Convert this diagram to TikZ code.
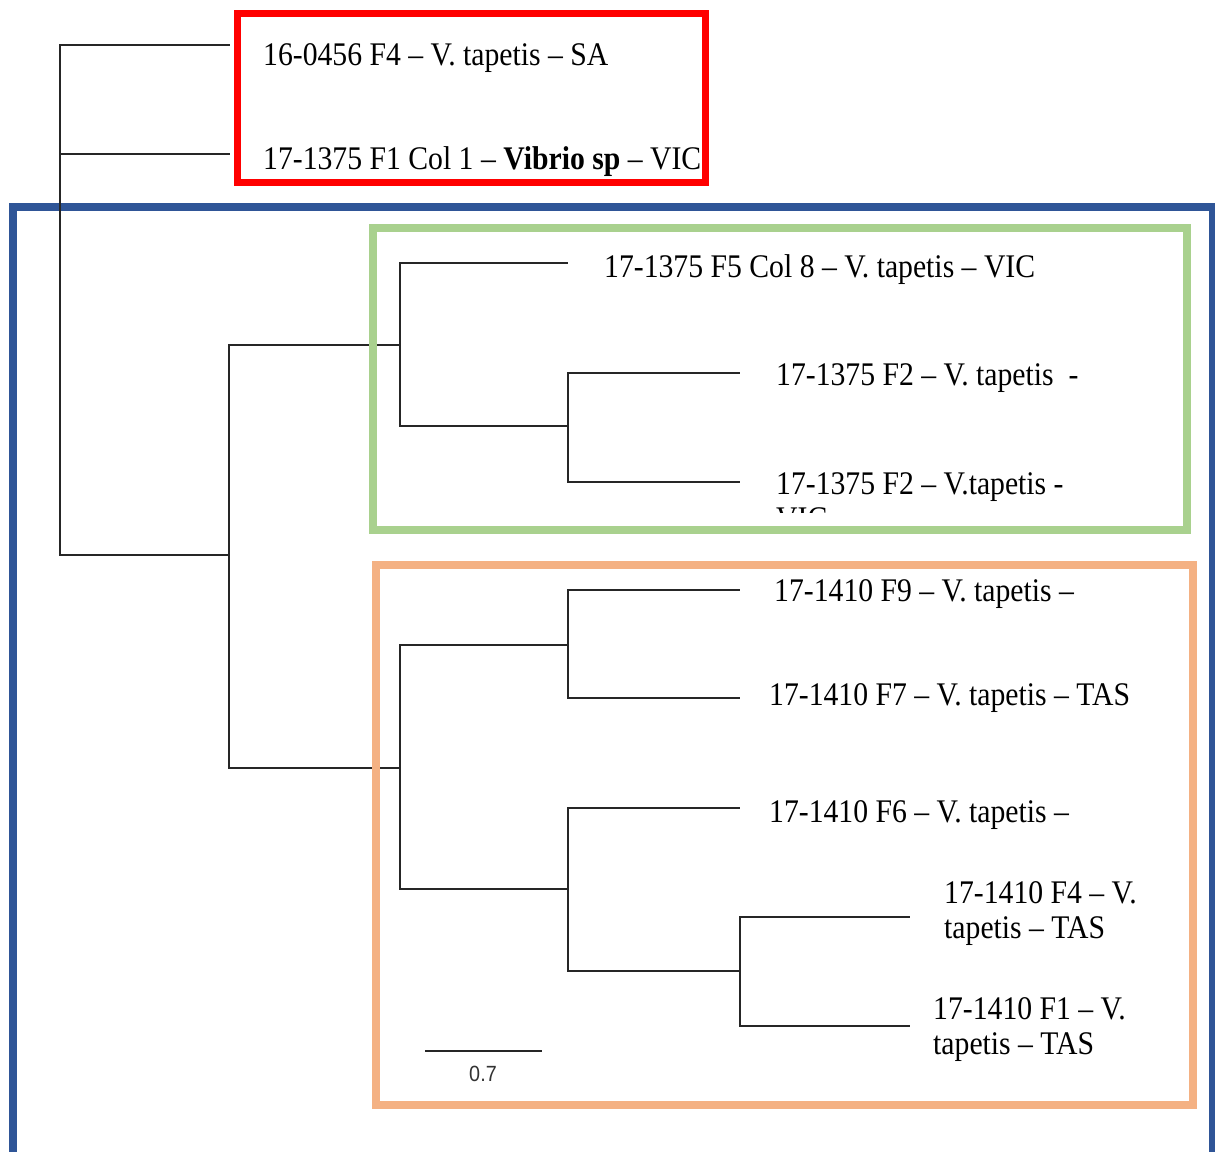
\documentclass[tikz,border=0pt]{standalone}
\usepackage{fontspec}
\setmainfont{Liberation Serif}[FakeStretch=0.9]
\newfontfamily\barfont{Liberation Sans}[FakeStretch=0.9]
\usetikzlibrary{positioning}

\definecolor{cladered}{RGB}{255,0,0}
\definecolor{cladeblue}{RGB}{47,85,151}
\definecolor{cladegreen}{RGB}{169,209,142}
\definecolor{cladeorange}{RGB}{244,177,131}

\tikzset{
  branch/.style={draw=black!85, line width=1.6pt},
  taxon/.style={anchor=base west, inner sep=0pt, align=left,
                font=\fontsize{33}{35}\selectfont},
  clade/.style={line width=8pt},
}

\begin{document}
\begin{tikzpicture}[x=1pt, y=-1pt]
    \clip (0,0) rectangle (1215,1151);
    \fill[white] (0,0) rectangle (1215,1151);

    % outer clade box
    \draw[clade, cladeblue] (13,207) rectangle (1213,1170);

    % tree: inner nodes and tips
    \coordinate (root) at (60,300);
    \coordinate (s1) at (230,45);
    \coordinate (s2) at (230,154);
    \coordinate (nA) at (229,555);
    \coordinate (nB) at (400,345);
    \coordinate (t3) at (568,263);
    \coordinate (nC) at (568,426);
    \coordinate (t4) at (740,373);
    \coordinate (t5) at (740,482);
    \coordinate (nD) at (400,768);
    \coordinate (nE) at (568,645);
    \coordinate (t6) at (740,590);
    \coordinate (t7) at (740,698);
    \coordinate (nF) at (568,889);
    \coordinate (t8) at (740,808);
    \coordinate (nG) at (740,971);
    \coordinate (t9) at (910,917);
    \coordinate (t10) at (910,1026);

    \draw[branch] (root) |- (s1) (root) |- (s2) (root) |- (nA);
    \draw[branch] (nA) |- (nB) (nA) |- (nD);
    \draw[branch] (nB) |- (t3) (nB) |- (nC);
    \draw[branch] (nC) |- (t4) (nC) |- (t5);
    \draw[branch] (nD) |- (nE) (nD) |- (nF);
    \draw[branch] (nE) |- (t6) (nE) |- (t7);
    \draw[branch] (nF) |- (t8) (nF) |- (nG);
    \draw[branch] (nG) |- (t9) (nG) |- (t10);

    % tip labels (two-line labels sit on their last line)
    \node[taxon] (lab1) at (263,65) {16-0456 F4 -- V. tapetis -- SA};
    \node[taxon] (lab2) at (263,169) {17-1375 F1 Col 1 -- \textbf{Vibrio sp} -- VIC};
    \node[taxon] (lab3) at (604,277) {17-1375 F5 Col 8 -- V. tapetis -- VIC};
    \node[taxon] (lab4) at (776,385) {17-1375 F2 -- V. tapetis\ \ -};
    \begin{scope}
      \clip (700,440) rectangle (1150,512);
      \node[taxon] (lab5) at (776,529) {17-1375 F2 -- V.tapetis -\\VIC};
    \end{scope}
    \node[taxon] (lab6) at (774,601) {17-1410 F9 -- V. tapetis --};
    \node[taxon] (lab7) at (769,705) {17-1410 F7 -- V. tapetis -- TAS};
    \node[taxon] (lab8) at (769,822) {17-1410 F6 -- V. tapetis --};
    \node[taxon] (lab9) at (944,938) {17-1410 F4 -- V.\\tapetis -- TAS};
    \node[taxon] (lab10) at (933,1054) {17-1410 F1 -- V.\\tapetis -- TAS};

    % scale bar
    \coordinate (bar0) at (425,1051);
    \coordinate (bar1) at (542,1051);
    \draw[branch] (bar0) -- (bar1);
    \node[font=\barfont\fontsize{22}{24}\selectfont, text=black!80, below=12pt of bar0, xshift=58pt] (barlab) {0.7};

    % clade boxes
    \draw[clade, cladegreen] (373,228) rectangle (1187,530);
    \draw[clade, cladeorange] (376,565) rectangle (1193,1105);
    \draw[line width=7pt, cladered] (237,13) rectangle (705,182);
\end{tikzpicture}
\end{document}
